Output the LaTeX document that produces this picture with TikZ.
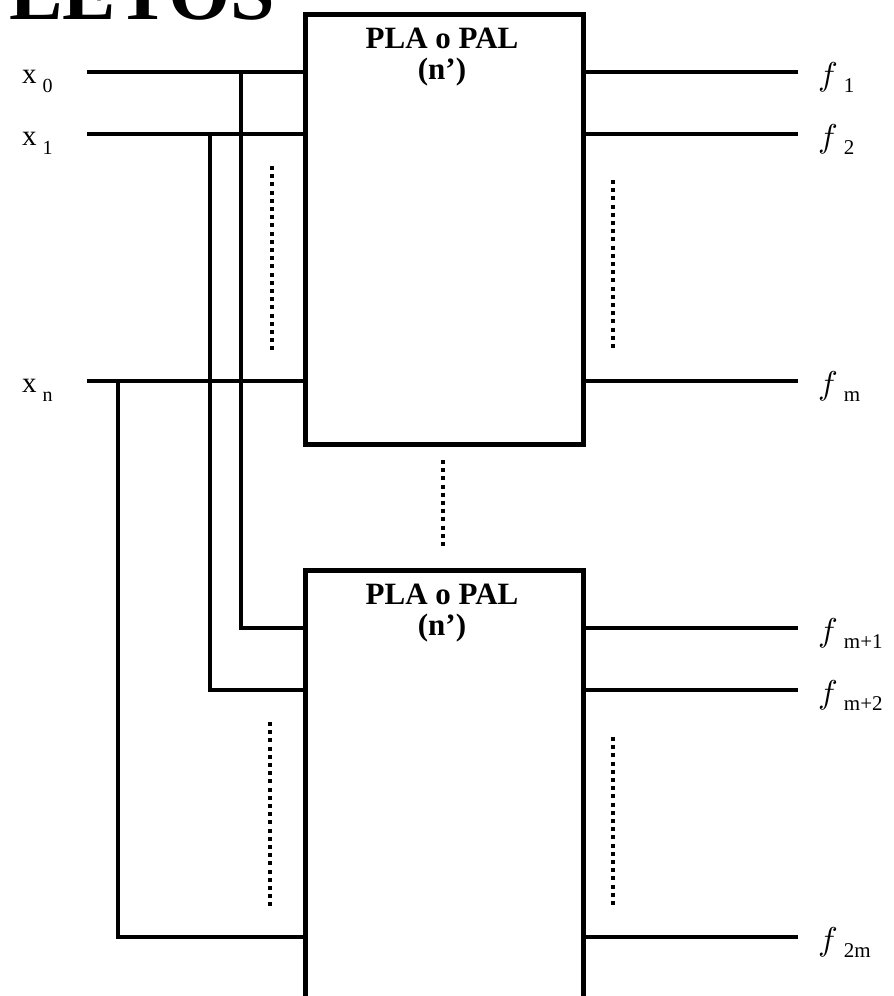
\documentclass[tikz,border=0pt]{standalone}
\usepackage{fontspec}
\setmainfont{Liberation Serif}
\newcommand{\flab}[1]{\scalebox{3.3}{$f$}\hspace{6pt}\raisebox{-7pt}{\fontsize{21}{24}\selectfont #1}}
\newcommand{\xlab}[1]{{\fontsize{29}{34}\selectfont x}\hspace{6pt}\raisebox{-9pt}{\fontsize{20}{24}\selectfont #1}}
\begin{document}
\begin{tikzpicture}[x=1pt,y=-1pt,
  wire/.style={line width=3.5pt},
  chip/.style={draw, line width=5pt, minimum width=278pt, inner sep=0pt, anchor=north west},
  chiptext/.style={font=\fontsize{31}{30}\selectfont\bfseries, align=center, anchor=base},
  dotline/.style={line width=4pt, dash pattern=on 4pt off 4.2pt},
  lab/.style={anchor=base west, inner sep=0pt}]
\useasboundingbox (0,0) rectangle (894,996);
\clip (0,0) rectangle (894,996);
% title
\node[anchor=base east, inner sep=0pt, font=\fontsize{80}{80}\selectfont\bfseries] (title) at (275,19) {COMPLETOS};
% boxes
\node[chip, minimum height=430pt] (b1) at (303,11.5) {};
\node[chip, minimum height=450pt] (b2) at (303,567.5) {};
\node[chiptext] (t1a) at (442,48) {PLA o PAL};
\node[chiptext] (t1b) at (442,79) {(n')};
\node[chiptext] (t2a) at (442,604) {PLA o PAL};
\node[chiptext] (t2b) at (442,635) {(n')};
% input labels
\node[lab] (x0) at (22,83) {\xlab{0}};
\node[lab] (x1) at (22,145) {\xlab{1}};
\node[lab] (xn) at (22,392) {\xlab{n}};
% input wire coordinates
\coordinate (i0) at (87,72);
\coordinate (i1) at (87,134);
\coordinate (in) at (87,381);
\coordinate (j0) at (241,72);
\coordinate (j1) at (210,134);
\coordinate (jn) at (118,381);
\coordinate (k0) at (241,628);
\coordinate (k1) at (210,690);
\coordinate (kn) at (118,937);
\draw[wire] (i0) -- (i0 -| b1.west);
\draw[wire] (i1) -- (i1 -| b1.west);
\draw[wire] (in) -- (in -| b1.west);
\draw[wire] (j0) -- (k0) -- (k0 -| b2.west);
\draw[wire] (j1) -- (k1) -- (k1 -| b2.west);
\draw[wire] (jn) -- (kn) -- (kn -| b2.west);
% outputs
\coordinate (o1) at (798,72);
\coordinate (o2) at (798,134);
\coordinate (om) at (798,381);
\coordinate (o3) at (798,628);
\coordinate (o4) at (798,690);
\coordinate (o5) at (798,937);
\draw[wire] (o1 -| b1.east) -- (o1);
\draw[wire] (o2 -| b1.east) -- (o2);
\draw[wire] (om -| b1.east) -- (om);
\draw[wire] (o3 -| b2.east) -- (o3);
\draw[wire] (o4 -| b2.east) -- (o4);
\draw[wire] (o5 -| b2.east) -- (o5);
\node[lab] (f1) at (818,85) {\flab{1}};
\node[lab] (f2) at (818,147) {\flab{2}};
\node[lab] (fm) at (818,394) {\flab{m}};
\node[lab] (f3) at (818,641) {\flab{m+1}};
\node[lab] (f4) at (818,703) {\flab{m+2}};
\node[lab] (f5) at (818,950) {\flab{2m}};
% dotted lines
\coordinate (d1a) at (272,166); \coordinate (d1b) at (272,350);
\coordinate (d2a) at (613,180); \coordinate (d2b) at (613,350);
\coordinate (d3a) at (443,460); \coordinate (d3b) at (443,550);
\coordinate (d4a) at (270,722); \coordinate (d4b) at (270,906);
\coordinate (d5a) at (613,737); \coordinate (d5b) at (613,906);
\draw[dotline] (d1a) -- (d1b);
\draw[dotline] (d2a) -- (d2b);
\draw[dotline] (d3a) -- (d3b);
\draw[dotline] (d4a) -- (d4b);
\draw[dotline] (d5a) -- (d5b);
\end{tikzpicture}
\end{document}
